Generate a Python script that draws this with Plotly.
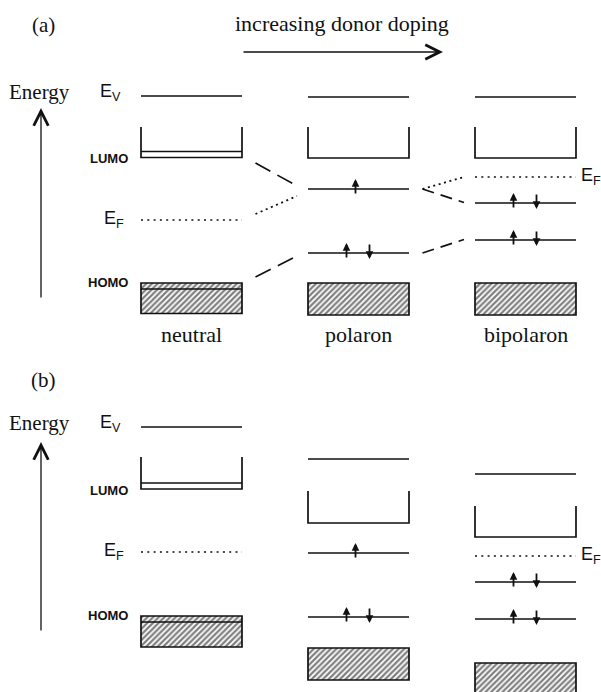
import plotly.graph_objects as go

# ---------------- data (energies in arbitrary units) ----------------
columns = ["neutral", "polaron", "bipolaron"]
col_pos = [0, 1, 2]

# panel (a)
a_vacuum = [21.9, 21.8, 21.8]
a_lumo_top = [18.8, 18.8, 18.8]
a_lumo_bottom = [15.75, 15.7, 15.7]
a_lumo_inner = [16.35, None, None]
a_fermi = [9.5, None, 13.8]
a_upper = [None, 12.6, 11.2]
a_lower = [None, 6.2, 7.5]
a_homo_top = [3.2, 3.2, 3.2]
a_homo_inner = [2.6, None, None]
a_homo_bottom = [0.15, 0.0, 0.0]

# connectors in panel (a): from column -> next column
conn_from_col = [0, 0, 0, 1, 1, 1]
conn_from_E = [15.2, 10.1, 3.8, 12.6, 12.6, 6.2]
conn_to_E = [12.9, 11.9, 5.9, 13.8, 11.25, 7.55]
conn_style = ["dash", "dot", "dash", "dot", "dash", "dash"]

# panel (b)
b_vacuum = [25.3, 22.1, 20.6]
b_lumo_top = [22.3, 18.9, 17.4]
b_lumo_bottom = [19.1, 15.7, 14.3]
b_lumo_inner = [19.7, None, None]
b_fermi = [12.8, None, 12.4]
b_upper = [None, 12.7, 9.8]
b_lower = [None, 6.3, 6.1]
b_homo_top = [6.4, 3.2, 1.7]
b_homo_inner = [5.8, None, None]
b_homo_bottom = [3.3, 0.0, -2.5]

# spin occupation of the gap states
upper_spins = ["", "u", "ud"]
lower_spins = ["", "ud", "ud"]

# ---------------- styles ----------------
W, H = 601, 692
X_RANGE = [-1.1467, 2.4521]
PX = (X_RANGE[1] - X_RANGE[0]) / W      # x units per pixel
HALF = 50.5 * PX                          # half width of a column
EPX = 0.1                                 # energy units per pixel
INK = "#111111"
LW = 1.7
DOT = "2px,4.3px"
SERIF = "Liberation Serif, Times New Roman, serif"
SANS = "Liberation Sans, Arial, sans-serif"

fig = go.Figure()
annotations = []


def hline(xa, ya, c, E, dash="solid", width=LW):
    fig.add_trace(go.Scatter(x=[c - HALF, c + HALF], y=[E, E], mode="lines",
                             line=dict(color=INK, width=width, dash=dash),
                             xaxis=xa, yaxis=ya, hoverinfo="skip"))


def spins(xa, ya, c, E, kind):
    if not kind:
        return
    offs = [-3 * PX] if kind == "u" else [-12 * PX, 11 * PX]
    dirs = ["u"] if kind == "u" else ["u", "d"]
    for o, d in zip(offs, dirs):
        hi, lo = E + 10 * EPX, E - 6 * EPX
        tip, tail = (hi, lo) if d == "u" else (lo, hi)
        annotations.append(dict(x=c + o, y=tip, ax=c + o, ay=tail, xref=xa, yref=ya,
                                axref=xa, ayref=ya, text="", showarrow=True,
                                arrowhead=2, arrowsize=0.85, arrowwidth=1.8,
                                arrowcolor=INK, standoff=0))


def panel(xa, ya, vac, ltop, lbot, linner, fermi, upper, lower, htop, hinner, hbot):
    # hatched HOMO bands
    fig.add_trace(go.Bar(x=col_pos, base=hbot, y=[t - b for t, b in zip(htop, hbot)],
                         width=2 * HALF, xaxis=xa, yaxis=ya,
                         marker=dict(color="white",
                                     line=dict(color=INK, width=LW),
                                     pattern=dict(shape="/", fgcolor="#000000", bgcolor="white",
                                                  size=4, solidity=0.55)),
                         hoverinfo="skip"))
    for c in col_pos:
        hline(xa, ya, c, vac[c], width=1.5)
        # LUMO band walls
        fig.add_trace(go.Scatter(x=[c - HALF, c - HALF, c + HALF, c + HALF],
                                 y=[ltop[c], lbot[c], lbot[c], ltop[c]], mode="lines",
                                 line=dict(color=INK, width=LW),
                                 xaxis=xa, yaxis=ya, hoverinfo="skip"))
        if linner[c] is not None:
            hline(xa, ya, c, linner[c])
        if hinner[c] is not None:
            hline(xa, ya, c, hinner[c], width=1.3)
        if fermi[c] is not None:
            hline(xa, ya, c, fermi[c], dash=DOT)
        if upper[c] is not None:
            hline(xa, ya, c, upper[c])
            spins(xa, ya, c, upper[c], upper_spins[c])
        if lower[c] is not None:
            hline(xa, ya, c, lower[c])
            spins(xa, ya, c, lower[c], lower_spins[c])

    # level labels for the neutral column
    left = col_pos[0] - HALF
    lab = dict(xref=xa, yref=ya, showarrow=False, xanchor="right", yanchor="middle")
    annotations.append(dict(lab, x=left - 18 * PX, y=vac[0], yshift=4,
                            text="E<sub>V</sub>", font=dict(family=SANS, size=18, color=INK)))
    annotations.append(dict(lab, x=left - 11 * PX, y=lbot[0], yshift=-1,
                            text="<b>LUMO</b>", font=dict(family=SANS, size=13, color=INK)))
    annotations.append(dict(lab, x=left - 15 * PX, y=fermi[0], yshift=1,
                            text="E<sub>F</sub>", font=dict(family=SANS, size=18, color=INK)))
    annotations.append(dict(lab, x=left - 11 * PX, y=htop[0], yshift=1,
                            text="<b>HOMO</b>", font=dict(family=SANS, size=13, color=INK)))
    # Fermi label for the bipolaron column
    annotations.append(dict(xref=xa, yref=ya, showarrow=False, xanchor="left", yanchor="middle",
                            x=col_pos[2] + HALF + 3 * PX, y=fermi[2], yshift=1,
                            text="E<sub>F</sub>", font=dict(family=SANS, size=18, color=INK)))


panel("x", "y", a_vacuum, a_lumo_top, a_lumo_bottom, a_lumo_inner, a_fermi,
      a_upper, a_lower, a_homo_top, a_homo_inner, a_homo_bottom)
panel("x2", "y2", b_vacuum, b_lumo_top, b_lumo_bottom, b_lumo_inner, b_fermi,
      b_upper, b_lower, b_homo_top, b_homo_inner, b_homo_bottom)

# connectors between columns in panel (a)
for fc, e0, e1, st in zip(conn_from_col, conn_from_E, conn_to_E, conn_style):
    x0 = fc + HALF + 13.5 * PX
    x1 = fc + 1 - HALF - 11 * PX
    if st == "dash":
        dash = "17px,8px" if fc == 0 else "12px,7px"
        width = LW
    else:
        dash, width = "2px,3.6px", 1.8
    fig.add_trace(go.Scatter(x=[x0, x1], y=[e0, e1], mode="lines",
                             line=dict(color=INK, width=width, dash=dash),
                             xaxis="x", yaxis="y", hoverinfo="skip"))


def px2paper_x(px):
    return px / W


def px2paper_y(py):
    return 1 - py / H


serif = dict(family=SERIF, size=22, color=INK)
ctr = dict(xanchor="center", yanchor="middle", showarrow=False, xref="paper", yref="paper")
# panel letters, energy arrows
for letter, ly, ey, tip, tail in [("(a)", 25, 92, 108, 299), ("(b)", 380, 423, 442, 632)]:
    annotations.append(dict(ctr, x=px2paper_x(43), y=px2paper_y(ly),
                            text=letter, font=dict(serif, size=21)))
    annotations.append(dict(ctr, x=px2paper_x(39), y=px2paper_y(ey),
                            text="Energy", font=dict(serif, size=21)))
    annotations.append(dict(xref="paper", yref="paper", x=px2paper_x(41), y=px2paper_y(tip),
                            ax=0, ay=tail - tip, text="", showarrow=True, arrowhead=5,
                            arrowsize=2.2, arrowwidth=1.3, arrowcolor=INK, standoff=0))

annotations.append(dict(ctr, x=px2paper_x(342), y=px2paper_y(24),
                        text="increasing donor doping", font=serif))
annotations.append(dict(xref="paper", yref="paper", x=px2paper_x(443), y=px2paper_y(52),
                        ax=-201, ay=0, text="", showarrow=True, arrowhead=5,
                        arrowsize=2.2, arrowwidth=1.3, arrowcolor=INK, standoff=0))

for c, name in zip(col_pos, columns):
    annotations.append(dict(xref="x", yref="paper", x=c, y=px2paper_y(334),
                            xanchor="center", text=name, showarrow=False,
                            yanchor="middle", font=serif))

axis_common = dict(visible=False, showgrid=False, zeroline=False, fixedrange=True)
fig.update_layout(
    width=W, height=H, margin=dict(l=0, r=0, t=0, b=0),
    paper_bgcolor="white", plot_bgcolor="white", showlegend=False,
    barmode="overlay",
    xaxis=dict(axis_common, domain=[0, 1], range=X_RANGE, anchor="y"),
    xaxis2=dict(axis_common, domain=[0, 1], range=X_RANGE, anchor="y2"),
    yaxis=dict(axis_common, domain=[0.5, 1], range=[-3.1, 31.5], anchor="x"),
    yaxis2=dict(axis_common, domain=[0, 0.5], range=[-1.2, 33.4], anchor="x2"),
    annotations=annotations,
)

fig.write_html("out.html")
